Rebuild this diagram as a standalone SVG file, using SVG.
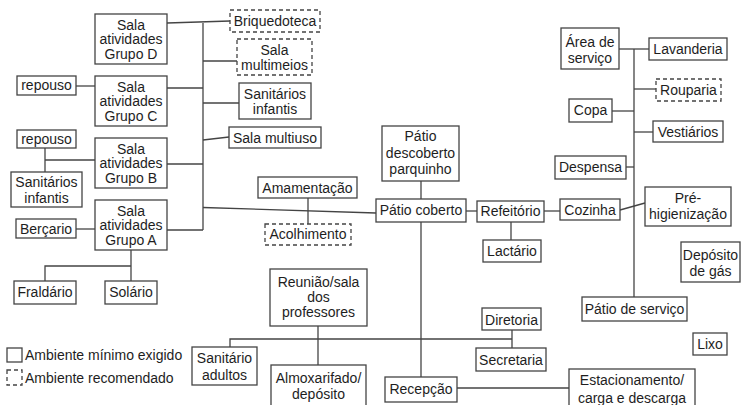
<svg xmlns="http://www.w3.org/2000/svg" width="741" height="405" viewBox="0 0 741 405">
<style>
.b{fill:#fff;stroke:#444;stroke-width:1.3}
.d{fill:#fff;stroke:#444;stroke-width:1.3;stroke-dasharray:4 3}
text{font-family:"Liberation Sans",Arial,sans-serif;font-size:14px;fill:#1e1e1e;text-anchor:middle}
.l{text-anchor:start}
#connectors line,#connectors polyline{stroke:#444;stroke-width:1.3;fill:none}
</style>
<rect width="741" height="405" fill="#fff"/>
<g id="connectors">
<line x1="167" y1="23" x2="230" y2="21"/>
<line x1="203" y1="23" x2="203" y2="230"/>
<line x1="203" y1="61" x2="237" y2="61"/>
<line x1="167" y1="88" x2="203" y2="88"/>
<line x1="203" y1="103" x2="239" y2="103"/>
<line x1="203" y1="140" x2="229" y2="137"/>
<line x1="167" y1="164" x2="203" y2="164"/>
<line x1="203" y1="207.5" x2="376" y2="213"/>
<line x1="167" y1="230" x2="203" y2="230"/>
<line x1="76" y1="86" x2="95" y2="86"/>
<line x1="45" y1="148" x2="45" y2="172"/>
<line x1="45" y1="160" x2="95" y2="160"/>
<line x1="76" y1="229" x2="95" y2="229"/>
<line x1="131" y1="250" x2="131" y2="281"/>
<polyline points="131,266 45,266 45,281"/>
<line x1="308" y1="198" x2="308" y2="224"/>
<line x1="421" y1="181" x2="421" y2="199"/>
<line x1="421" y1="222" x2="421" y2="377"/>
<line x1="466" y1="211" x2="477" y2="211"/>
<line x1="544" y1="211" x2="560" y2="211"/>
<line x1="511" y1="222" x2="511" y2="240"/>
<line x1="620" y1="210" x2="645" y2="203"/>
<line x1="634" y1="49" x2="634" y2="297"/>
<line x1="619" y1="49" x2="649" y2="49"/>
<line x1="634" y1="89" x2="656" y2="89"/>
<line x1="612" y1="111" x2="634" y2="111"/>
<line x1="634" y1="132" x2="653" y2="132"/>
<line x1="626" y1="167" x2="634" y2="167"/>
<polyline points="230,347 230,339 512,339"/>
<line x1="512" y1="330" x2="512" y2="348"/>
<line x1="318" y1="326" x2="318" y2="365"/>
<line x1="457" y1="388" x2="569" y2="388"/>
</g>
<g id="salaD"><rect class="b" x="95" y="14" width="72" height="50"/><text x="131" y="29.5">Sala</text><text x="131" y="44">atividades</text><text x="131" y="58.5">Grupo D</text></g>
<g id="salaC"><rect class="b" x="95" y="76" width="72" height="50"/><text x="131" y="91.5">Sala</text><text x="131" y="106">atividades</text><text x="131" y="120.5">Grupo C</text></g>
<g id="salaB"><rect class="b" x="95" y="138" width="72" height="50"/><text x="131" y="153.5">Sala</text><text x="131" y="168">atividades</text><text x="131" y="182.5">Grupo B</text></g>
<g id="salaA"><rect class="b" x="95" y="200" width="72" height="50"/><text x="131" y="215.5">Sala</text><text x="131" y="230">atividades</text><text x="131" y="244.5">Grupo A</text></g>
<g id="repousoC"><rect class="b" x="17" y="76" width="59" height="19"/><text x="46.5" y="90">repouso</text></g>
<g id="repousoB"><rect class="b" x="17" y="130" width="59" height="18"/><text x="46.5" y="143.5">repouso</text></g>
<g id="sanitariosInfantisL"><rect class="b" x="11" y="172" width="71" height="35"/><text x="46.5" y="187">Sanitários</text><text x="46.5" y="202.5">infantis</text></g>
<g id="bercario"><rect class="b" x="16" y="219" width="60" height="19"/><text x="46" y="233.5">Berçario</text></g>
<g id="fraldario"><rect class="b" x="14" y="281" width="62" height="23"/><text x="45" y="297">Fraldário</text></g>
<g id="solario"><rect class="b" x="105" y="281" width="52" height="23"/><text x="131" y="297">Solário</text></g>
<g id="briquedoteca"><rect class="d" x="230" y="10" width="90" height="22"/><text x="275" y="26">Briquedoteca</text></g>
<g id="salaMultimeios"><rect class="d" x="237" y="39" width="75" height="36"/><text x="274.5" y="54.5">Sala</text><text x="274.5" y="70">multimeios</text></g>
<g id="sanitariosInfantisR"><rect class="b" x="239" y="83" width="72" height="36"/><text x="275" y="98.5">Sanitários</text><text x="275" y="114">infantis</text></g>
<g id="salaMultiuso"><rect class="b" x="229" y="127" width="92" height="21"/><text x="275" y="142.5">Sala multiuso</text></g>
<g id="amamentacao"><rect class="b" x="258" y="177" width="99" height="21"/><text x="307.5" y="192.5">Amamentação</text></g>
<g id="acolhimento"><rect class="d" x="265" y="224" width="86" height="21"/><text x="308" y="239">Acolhimento</text></g>
<g id="patioDescoberto"><rect class="b" x="382" y="126" width="77" height="55"/><text x="420.5" y="141">Pátio</text><text x="420.5" y="157.5">descoberto</text><text x="420.5" y="174">parquinho</text></g>
<g id="patioCoberto"><rect class="b" x="376" y="199" width="90" height="23"/><text x="421" y="215">Pátio coberto</text></g>
<g id="refeitorio"><rect class="b" x="477" y="201" width="67" height="21"/><text x="510.5" y="216">Refeitório</text></g>
<g id="lactario"><rect class="b" x="483" y="240" width="58" height="22"/><text x="512" y="255.5">Lactário</text></g>
<g id="cozinha"><rect class="b" x="560" y="199" width="60" height="21"/><text x="590" y="215">Cozinha</text></g>
<g id="preHigienizacao"><rect class="b" x="645" y="187" width="86" height="39"/><text x="688" y="202.5">Pré-</text><text x="688" y="218.5">higienização</text></g>
<g id="areaServico"><rect class="b" x="561" y="28" width="58" height="41"/><text x="590" y="46.5">Área de</text><text x="590" y="62.5">serviço</text></g>
<g id="lavanderia"><rect class="b" x="649" y="38" width="78" height="22"/><text x="688" y="54">Lavanderia</text></g>
<g id="rouparia"><rect class="d" x="656" y="79" width="65" height="22"/><text x="688.5" y="95">Rouparia</text></g>
<g id="copa"><rect class="b" x="569" y="99" width="43" height="23"/><text x="590.5" y="115">Copa</text></g>
<g id="vestiarios"><rect class="b" x="653" y="121" width="70" height="21"/><text x="688" y="136.5">Vestiários</text></g>
<g id="despensa"><rect class="b" x="555" y="156" width="71" height="23"/><text x="590.5" y="172">Despensa</text></g>
<g id="patioServico"><rect class="b" x="582" y="297" width="105" height="24"/><text x="634.5" y="313.5">Pátio de serviço</text></g>
<g id="depositoGas"><rect class="b" x="681" y="242" width="59" height="40"/><text x="710.5" y="259.5">Depósito</text><text x="710.5" y="276">de gás</text></g>
<g id="lixo"><rect class="b" x="693" y="333" width="34" height="22"/><text x="710" y="349">Lixo</text></g>
<g id="diretoria"><rect class="b" x="482" y="308" width="59" height="22"/><text x="511.5" y="324.5">Diretoria</text></g>
<g id="secretaria"><rect class="b" x="476" y="348" width="70" height="23"/><text x="511" y="365">Secretaria</text></g>
<g id="reuniao"><rect class="b" x="270" y="269" width="97" height="57"/><text x="318.5" y="287">Reunião/sala</text><text x="318.5" y="302">dos</text><text x="318.5" y="316.5">professores</text></g>
<g id="almoxarifado"><rect class="b" x="271" y="365" width="95" height="45"/><text x="318.5" y="382.5">Almoxarifado/</text><text x="318.5" y="398.5">depósito</text></g>
<g id="recepcao"><rect class="b" x="385" y="377" width="72" height="25"/><text x="421" y="393.5">Recepção</text></g>
<g id="sanitarioAdultos"><rect class="b" x="192" y="347" width="65" height="38"/><text x="224.5" y="362.5">Sanitário</text><text x="224.5" y="380">adultos</text></g>
<g id="estacionamento"><rect class="b" x="569" y="369" width="126" height="45"/><text x="632" y="385">Estacionamento/</text><text x="632" y="402.5">carga e descarga</text></g>
<g id="legend">
<rect class="b" x="7" y="348" width="15" height="14"/><text class="l" x="25" y="359.5">Ambiente mínimo exigido</text>
<rect class="d" x="7" y="370" width="15" height="15"/><text class="l" x="25" y="382.5">Ambiente recomendado</text>
</g>
</svg>
